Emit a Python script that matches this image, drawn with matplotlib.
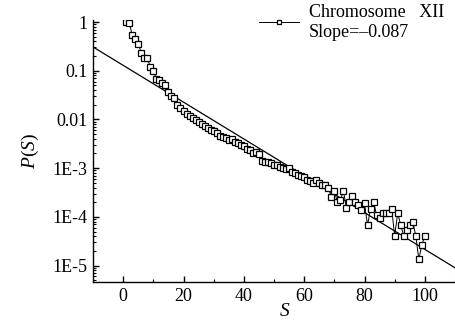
import numpy as np
import matplotlib
matplotlib.use("Agg")
from matplotlib import pyplot as plt
from matplotlib.ticker import FixedLocator, NullFormatter

plt.rcParams['font.family'] = ['Liberation Serif', 'DejaVu Serif']
plt.rcParams['mathtext.fontset'] = 'custom'
plt.rcParams['mathtext.it'] = 'Liberation Serif:italic'
plt.rcParams['mathtext.rm'] = 'Liberation Serif'

# chromosome XII: segment length S vs probability P(S), read as log10 P
s_values = np.arange(1, 101)
log_p = [
    0.0, -0.01, -0.27, -0.35, -0.45, -0.63, -0.74, -0.74, -0.92, -1.00,
    -1.16, -1.20, -1.26, -1.30, -1.43, -1.52, -1.57, -1.70, -1.76, -1.82,
    -1.88, -1.93, -1.97, -2.01, -2.05, -2.09, -2.13, -2.17, -2.21, -2.24,
    -2.28, -2.33, -2.36, -2.38, -2.42, -2.40, -2.46, -2.49, -2.52, -2.55,
    -2.60, -2.63, -2.69, -2.66, -2.71, -2.86, -2.87, -2.87, -2.90, -2.93,
    -2.94, -2.97, -3.00, -3.02, -3.00, -3.08, -3.10, -3.14, -3.16, -3.18,
    -3.24, -3.26, -3.30, -3.24, -3.31, -3.35, -3.35, -3.40, -3.59, -3.46,
    -3.70, -3.66, -3.46, -3.82, -3.70, -3.57, -3.70, -3.75, -3.85, -3.72,
    -4.17, -3.84, -3.69, -3.96, -4.03, -3.92, -3.92, -3.92, -3.83, -4.39,
    -3.92, -4.17, -4.39, -4.27, -4.17, -4.10, -4.39, -4.87, -4.58, -4.39,
]
p_values = 10.0 ** np.array(log_p)

# exponential fit P = A * exp(slope * S)
fit_slope = -0.087
fit_amp = 0.129
fit_range = [-10, 110]

y_ticks = [1, 0.1, 0.01, 1e-3, 1e-4, 1e-5]
y_tick_labels = ["1", "0.1", "0.01", "1E-3", "1E-4", "1E-5"]
x_ticks = [0, 20, 40, 60, 80, 100]

fig = plt.figure(figsize=(4.55, 3.23), dpi=100)
ax = fig.add_axes([93 / 455, 41 / 323, 362 / 455, 262 / 323])

fit_x = np.linspace(fit_range[0], fit_range[1], 200)
ax.plot(fit_x, fit_amp * np.exp(fit_slope * fit_x), color="black", lw=0.9)
data_line, = ax.plot(s_values, p_values, color="black", lw=0.7, marker="s",
                     markersize=5, markerfacecolor="white",
                     markeredgecolor="black", markeredgewidth=0.9)

ax.set_yscale("log")
ax.set_xlim(-10, 110)
ax.set_ylim(4.6e-6, 1.1)

ax.set_yticks(y_ticks)
ax.set_yticklabels(y_tick_labels)
minor = [m * 10.0 ** e for e in range(-6, 1) for m in range(2, 10)]
ax.yaxis.set_minor_locator(FixedLocator(minor))
ax.yaxis.set_minor_formatter(NullFormatter())
ax.set_xticks(x_ticks)
ax.set_xticks([10, 30, 50, 70, 90, 110], minor=True)

for side in ("top", "right"):
    ax.spines[side].set_visible(False)
for side in ("left", "bottom"):
    ax.spines[side].set_linewidth(1.0)

ax.tick_params(which="major", direction="in", length=4, width=1.0,
               labelsize=13, pad=4)
ax.tick_params(which="minor", direction="in", length=2.5, width=0.8)

ax.set_ylabel("$P(S)$", fontsize=14, labelpad=8)
ax.set_xlabel("$S$", fontsize=14, va="center")
ax.xaxis.set_label_coords((285 - 93) / 362, -(312 - 282) / 262)

ax.legend([data_line], ["Chromosome   XII\nSlope=\u20130.087"],
          loc="upper left", bbox_to_anchor=(259 / 455, 1 - 4 / 323),
          bbox_transform=fig.transFigure, frameon=False, fontsize=13,
          handlelength=2.2, handletextpad=0.55, borderpad=0,
          borderaxespad=0, markerscale=0.7)

fig.savefig("out.png", dpi=100)
